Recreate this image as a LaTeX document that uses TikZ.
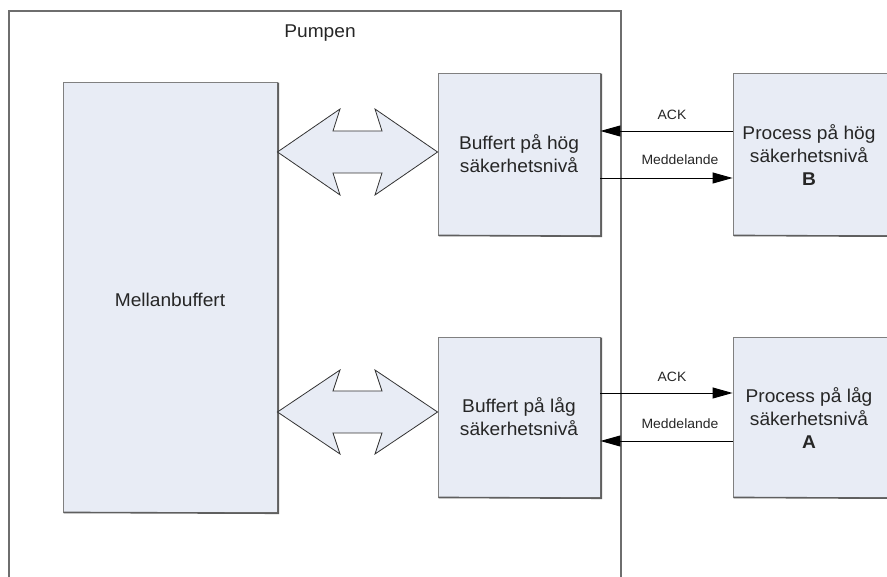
\documentclass[tikz,border=0pt]{standalone}
\usepackage{fontspec}
\setmainfont[FakeStretch=1.035]{Liberation Sans}
\usetikzlibrary{arrows.meta}
\definecolor{boxfill}{RGB}{232,236,245}
\definecolor{boxline}{RGB}{128,128,128}
\definecolor{shadowline}{RGB}{95,95,95}
\definecolor{frameline}{RGB}{110,110,110}
\tikzset{
  box/.style={draw=boxline, fill=boxfill, line width=0.9pt, inner sep=0pt},
  boxshadow/.style={draw=shadowline, line width=1.6pt},
  bigtext/.style={font=\fontsize{18.5}{23}\selectfont, align=center, text=black!85, inner sep=0pt},
  smalltext/.style={font=\fontsize{13.5}{16}\selectfont, text=black!85, inner sep=0pt},
  msg/.style={draw=black, line width=0.9pt, -{Triangle[length=20pt,width=11pt]}},
  dblarrow/.style={draw=black!80, fill=boxfill, line width=0.8pt, line join=miter},
  frame/.style={draw=frameline, line width=1.1pt}
}
\begin{document}
\begin{tikzpicture}[x=1pt,y=-1pt]
\useasboundingbox (0,0) rectangle (887,577);
\begin{scope}
\clip (0,0) rectangle (887,577);
% Pumpen frame
\draw[frame] (9,580) -- (9,11) -- (621,11) -- (621,580);
\node[bigtext] (pumpen) at (320,33) {Pumpen};
% boxes
\node[box, minimum width=214pt, minimum height=430pt] (mell) at (170,297) {};
\node[bigtext] at (170,300) {Mellanbuffert};
\node[box, minimum width=162pt, minimum height=162pt] (bufH) at (519,154) {};
\node[bigtext] at (519,154) {Buffert på hög\\säkerhetsnivå};
\node[box, minimum width=162pt, minimum height=160pt] (bufL) at (519,417) {};
\node[bigtext] at (519,417) {Buffert på låg\\säkerhetsnivå};
\node[box, minimum width=167pt, minimum height=162pt] (procB) at (816.5,154) {};
\node[bigtext] at (809,155) {Process på hög\\säkerhetsnivå\\\textbf{B}};
\node[box, minimum width=167pt, minimum height=160pt] (procA) at (816.5,417) {};
\node[bigtext] at (809,418) {Process på låg\\säkerhetsnivå\\\textbf{A}};
% shadows
\foreach \n in {mell,bufH,bufL,procB,procA}{
  \draw[boxshadow] ([xshift=1pt]\n.south west) -- ([xshift=0.8pt,yshift=-0.8pt]\n.south east) -- ([xshift=0.8pt,yshift=-1pt]\n.north east);
}
% double arrows
\draw[dblarrow] (mell.east |- 0,152) -- (340,109) -- (333,131) -- (382,131) -- (375,109) -- (bufH.west |- 0,152)
  -- (375,195) -- (382,173) -- (333,173) -- (340,195) -- cycle;
\draw[dblarrow] (mell.east |- 0,412) -- (340,370) -- (333,391) -- (382,391) -- (375,370) -- (bufL.west |- 0,412)
  -- (375,454) -- (382,433) -- (333,433) -- (340,454) -- cycle;
% messages top
\draw[msg] (procB.west |- 0,131) -- (bufH.east |- 0,131);
\node[smalltext] (ackH) at (672,115) {ACK};
\draw[msg] (bufH.east |- 0,178) -- (procB.west |- 0,178);
\node[smalltext] (medH) at (680,160) {Meddelande};
% messages bottom
\draw[msg] (bufL.east |- 0,393) -- (procA.west |- 0,393);
\node[smalltext] (ackL) at (672,377) {ACK};
\draw[msg] (procA.west |- 0,441) -- (bufL.east |- 0,441);
\node[smalltext] (medL) at (680,424) {Meddelande};
\end{scope}
\end{tikzpicture}
\end{document}
